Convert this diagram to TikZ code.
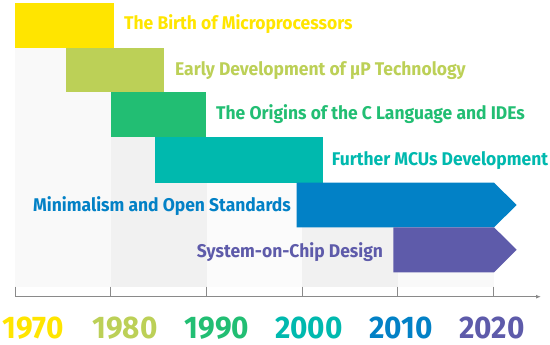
\documentclass[tikz,border=0pt]{standalone}
\usepackage{fontspec}
\setmainfont{Fira Sans}
\newfontfamily\lbl{Fira Sans Bold}[FakeStretch=0.95]
\newfontfamily\yrf{Fira Sans Bold}[FakeStretch=0.95]
\usetikzlibrary{arrows.meta}
\definecolor{cYel}{HTML}{FFE500}
\definecolor{cLime}{HTML}{BCD057}
\definecolor{cGreen}{HTML}{22BE73}
\definecolor{cTeal}{HTML}{00B9AE}
\definecolor{cBlue}{HTML}{0281C6}
\definecolor{cPurp}{HTML}{5E5BAA}
\definecolor{cAxis}{HTML}{8A8A8A}
\definecolor{gLight}{HTML}{F9F9F9}
\definecolor{gDark}{HTML}{F1F1F1}
\definecolor{gFaint}{HTML}{FBFBFB}
\begin{document}
\begin{tikzpicture}[x=1pt,y=-1pt,
  era/.style={anchor=base west,inner sep=0pt,font=\lbl\fontsize{18.4}{20}\selectfont},
  year/.style={anchor=base,inner sep=0pt,font=\yrf\fontsize{31.3}{34}\selectfont},
  tick/.style={draw=cAxis,line width=1pt}]
\useasboundingbox (0,0) rectangle (550,345);
% background columns
\fill[gLight] (15,48) rectangle (110.7,287);
\fill[gDark] (110.7,137) rectangle (206.5,287);
\fill[gFaint] (206.5,183) rectangle (302,287);
\fill[gDark] (302,227.3) rectangle (398,287);
\fill[gLight] (398,272.3) rectangle (494,287);
% bars
\fill[cYel] (15,3) rectangle (114,48);
\fill[cLime] (66,48) rectangle (163.7,92.3);
\fill[cGreen] (110.7,92.3) rectangle (206.3,137);
\fill[cTeal] (155,137) rectangle (323.3,182.7);
\fill[cBlue] (296.7,182.7) -- (494,182.7) -- (516.7,205) -- (494,227.3) -- (296.7,227.3) -- cycle;
\fill[cPurp] (393.3,227.3) -- (494,227.3) -- (516.7,249.8) -- (494,272.3) -- (393.3,272.3) -- cycle;
% labels
\node[era,text=cYel] (t1) at (124,30) {The Birth of Microprocessors};
\node[era,text=cLime] (t2) at (175,75.3) {Early Development of µP Technology};
\node[era,text=cGreen] (t3) at (216,120) {The Origins of the C Language and IDEs};
\node[era,text=cTeal] (t4) at (331.7,165.7) {Further MCUs Development};
\node[era,text=cBlue] (t5) at (33,211.7) {Minimalism and Open Standards};
\node[era,text=cPurp] (t6) at (196.7,257.3) {System-on-Chip Design};
% axis
\coordinate (a0) at (15,296.7);
\coordinate (a1) at (541,296.7);
\draw[cAxis,line width=1pt,-{Latex[length=5pt,width=4pt]}] (a0) -- (a1);
\foreach \x in {15,110.7,206.5,302,397.7,493.3}
  \draw[tick] (\x,286.7) -- (\x,296.7);
% years
\node[year,text=cYel] (y1) at (33,338.3) {1970};
\node[year,text=cLime] (y2) at (125,338.3) {1980};
\node[year,text=cGreen] (y3) at (217,338.3) {1990};
\node[year,text=cTeal] (y4) at (309,338.3) {2000};
\node[year,text=cBlue] (y5) at (401,338.3) {2010};
\node[year,text=cPurp] (y6) at (492,338.3) {2020};
\end{tikzpicture}
\end{document}
